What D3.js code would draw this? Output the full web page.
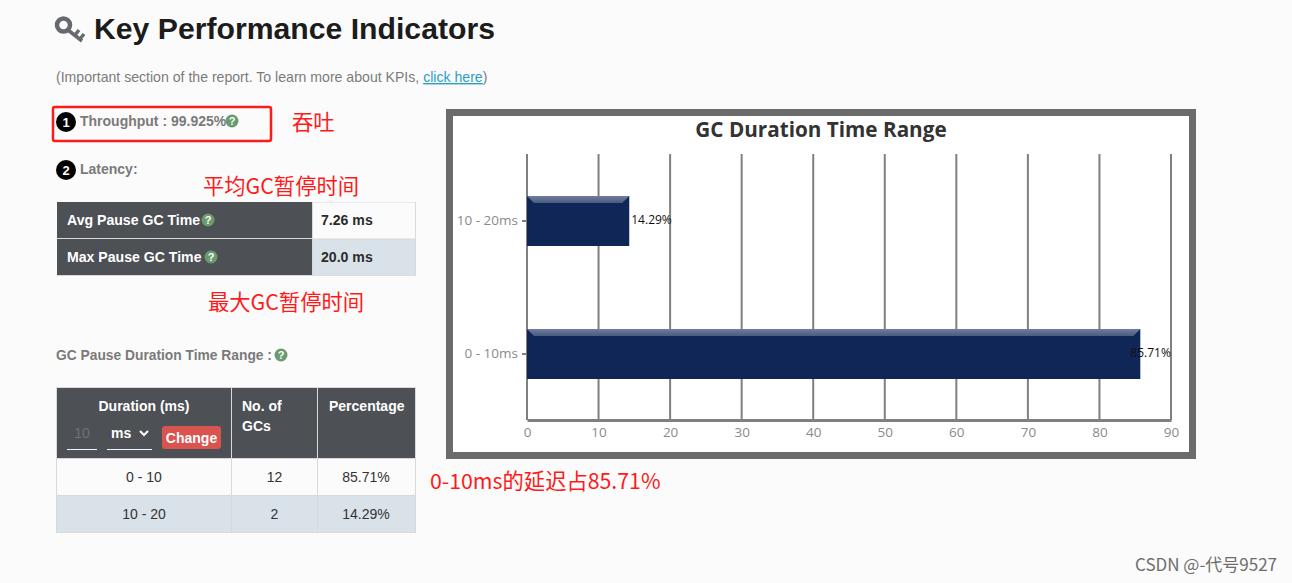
<!DOCTYPE html>
<html>
<head>
<meta charset="UTF-8">
<title>Key Performance Indicators</title>
<style>
html, body { margin: 0; padding: 0; background: #fbfbfb; overflow: hidden; }
svg { display: block; }
text { font-family: "Liberation Sans", Arial, sans-serif; }
.cjk { font-family: "Noto Sans CJK SC", sans-serif; fill: #ff1a1a; }
</style>
<script src="https://cdnjs.cloudflare.com/ajax/libs/d3/7.8.5/d3.min.js"></script>
</head>
<body>
<svg id="page" width="1292" height="583"></svg>
<script>
// chart values
const categories = ["10 - 20ms", "0 - 10ms"];
const percentages = [14.29, 85.71];
const percentLabels = ["14.29%", "85.71%"];
const xTicks = [0, 10, 20, 30, 40, 50, 60, 70, 80, 90];

// tables
const latencyRows = [["Avg Pause GC Time", "7.26 ms"], ["Max Pause GC Time", "20.0 ms"]];
const durationRows = [["0 - 10", "12", "85.71%"], ["10 - 20", "2", "14.29%"]];

const svg = d3.select("#page");

function label(x, y, str, size, color, weight, anchor) {
	return svg.append("text")
		.attr("x", x).attr("y", y)
		.attr("font-size", size)
		.attr("fill", color)
		.attr("font-weight", weight || "normal")
		.attr("text-anchor", anchor || "start")
		.text(str);
}

function note(x, y, str, size) {
	return svg.append("text").attr("class", "cjk")
		.attr("x", x).attr("y", y)
		.attr("font-size", size)
		.text(str);
}

function rect(x, y, w, h, fill) {
	return svg.append("rect").attr("x", x).attr("y", y).attr("width", w).attr("height", h).attr("fill", fill);
}

function helpIcon(cx, cy) {
	svg.append("circle").attr("cx", cx).attr("cy", cy).attr("r", 6.5).attr("fill", "#6a9a6d");
	label(cx, cy + 4, "?", 11, "#fbfbfb", "bold", "middle");
}

function numberBadge(cx, cy, n) {
	svg.append("circle").attr("cx", cx).attr("cy", cy).attr("r", 10).attr("fill", "#000");
	label(cx, cy + 4.5, n, 13, "#fff", "bold", "middle");
}

// heading with key icon
const key = svg.append("g").attr("fill", "none").attr("stroke", "#666a6e");
key.append("circle").attr("cx", 63.5).attr("cy", 25).attr("r", 6.5).attr("stroke-width", 4.5);
key.append("path").attr("d", "M68 30 L82 41 M75 35 L79 30 M80 39 L84 34").attr("stroke-width", 3.5);
label(94, 39, "Key Performance Indicators", 30.2, "#1c1c1c", "bold");

const intro = label(56, 82, "(Important section of the report. To learn more about KPIs, ", 14.1, "#7b7b7b");
intro.append("tspan").attr("fill", "#2a9fc9").attr("text-decoration", "underline").text("click here");
intro.append("tspan").text(")");

// throughput / latency
svg.append("rect").attr("x", 53).attr("y", 107).attr("width", 218).attr("height", 34).attr("rx", 2)
	.attr("fill", "none").attr("stroke", "#ff1a1a").attr("stroke-width", 2.5);
numberBadge(66, 122, "1");
label(80, 126, "Throughput : 99.925%", 14, "#7a7a7a", "bold");
helpIcon(232, 121);
numberBadge(66, 170, "2");
label(80, 174, "Latency:", 14, "#7a7a7a", "bold");

note(203, 194, "平均GC暂停时间", 21.3);
note(208, 310, "最大GC暂停时间", 21.3);
note(292, 130, "吞吐", 21.3);
note(430, 489, "0-10ms的延迟占85.71%", 21.3);

// latency table
rect(57, 202, 359, 74, "#d9d9d9");
latencyRows.forEach(function(row, i) {
	const y = 202 + i * 37;
	rect(57, y, 255, 36, "#4d5055");
	rect(313, y + 0.5, 102, 36, i == 0 ? "#fbfbfb" : "#dae2e9");
	label(67, y + 23, row[0], 14.1, "#fff", "bold");
	label(321, y + 23, row[1], 14.1, "#2b2b2b", "bold");
	helpIcon(i == 0 ? 208 : 211, y + 18);
});

label(56, 360, "GC Pause Duration Time Range :", 13.8, "#7a7a7a", "bold");
helpIcon(281, 355);

// duration table
rect(56, 387, 360, 146, "#d9d9d9");
rect(57, 388, 174, 70, "#4d5055");
rect(232, 388, 85, 70, "#4d5055");
rect(318, 388, 97, 70, "#4d5055");
label(144, 411, "Duration (ms)", 14, "#fff", "bold", "middle");
label(242, 411, "No. of", 14, "#fff", "bold");
label(242, 431, "GCs", 14, "#fff", "bold");
label(329, 411, "Percentage", 14, "#fff", "bold");
label(82, 438, "10", 14, "#6f7277", "normal", "middle");
rect(67, 449, 30, 1, "#f5f5f5");
label(111, 438, "ms", 14, "#fff", "bold");
svg.append("path").attr("d", "M140 431 L144 435 L148 431").attr("fill", "none").attr("stroke", "#fff").attr("stroke-width", 2);
rect(107, 449, 45, 1, "#f5f5f5");
svg.append("rect").attr("x", 162).attr("y", 426).attr("width", 59).attr("height", 23).attr("rx", 3).attr("fill", "#d9534f");
label(191.5, 443, "Change", 14, "#fff", "bold", "middle");

durationRows.forEach(function(row, i) {
	const y = 459 + i * 37;
	const fill = i == 0 ? "#fbfbfb" : "#dae2e9";
	rect(57, y, 174, 36, fill);
	rect(232, y, 85, 36, fill);
	rect(318, y, 97, 36, fill);
	label(144, y + 23, row[0], 14, "#333", "normal", "middle");
	label(274.5, y + 23, row[1], 14, "#333", "normal", "middle");
	label(366, y + 23, row[2], 14, "#333", "normal", "middle");
});

// chart frame
svg.append("rect").attr("x", 449.5).attr("y", 112.5).attr("width", 743).attr("height", 343)
	.attr("fill", "#fff").attr("stroke", "#6b6b6b").attr("stroke-width", 7);
label(821, 137, "GC Duration Time Range", 20.7, "#333", "bold", "middle").style("font-family", "'Open Sans', sans-serif");

const x = d3.scaleLinear().domain([0, 90]).range([527, 1171]);
const y = d3.scaleBand().domain(categories).range([154.5, 420.5]).paddingInner(0.624).paddingOuter(0.312);

const defs = svg.append("defs");
const shine = defs.append("linearGradient").attr("id", "bevel").attr("x1", 0).attr("y1", 0).attr("x2", 0).attr("y2", 1);
shine.append("stop").attr("offset", "0%").attr("stop-color", "#707f9e");
shine.append("stop").attr("offset", "100%").attr("stop-color", "#4a5b82");

// gridlines sit behind the bars
svg.append("g").selectAll("line").data(xTicks).enter().append("line")
	.attr("x1", function(d) { return x(d); }).attr("x2", function(d) { return x(d); })
	.attr("y1", 154).attr("y2", 420)
	.attr("stroke", "#808080").attr("stroke-width", 2);

const xAxis = svg.append("g").attr("transform", "translate(0,420)")
	.call(d3.axisBottom(x).tickValues(xTicks).tickSize(0).tickPadding(7));
xAxis.select(".domain").attr("stroke", "#808080").attr("stroke-width", 3);
xAxis.selectAll("text").attr("font-size", 13.5).attr("fill", "#8a8a8a").style("font-family", "'Open Sans', sans-serif");

const yAxis = svg.append("g").attr("transform", "translate(527,0)")
	.call(d3.axisLeft(y).tickSize(5).tickPadding(4));
yAxis.select(".domain").remove();
yAxis.selectAll("line").attr("stroke", "#808080").attr("stroke-width", 2);
yAxis.selectAll("text").attr("font-size", 13.5).attr("fill", "#8a8a8a").style("font-family", "'Open Sans', sans-serif");

const bars = svg.append("g").selectAll("g").data(categories).enter().append("g");
bars.append("rect")
	.attr("x", x(0))
	.attr("y", function(d) { return y(d); })
	.attr("width", function(d, i) { return x(percentages[i]) - x(0); })
	.attr("height", y.bandwidth())
	.attr("fill", "#0f2656");
// bevelled top edge of each bar
bars.append("path")
	.attr("d", function(d, i) {
		const x0 = x(0), x1 = x(percentages[i]), top = y(d), e = 7;
		return "M" + x0 + " " + top + "L" + x1 + " " + top + "L" + (x1 - e) + " " + (top + e) + "L" + (x0 + e) + " " + (top + e) + "Z";
	})
	.attr("fill", "url(#bevel)");

svg.append("g").selectAll("text").data(categories).enter().append("text")
	.attr("x", function(d, i) { return i == 0 ? x(percentages[i]) + 2 : x(percentages[i]) - 10; })
	.attr("y", function(d) { return y(d) + y.bandwidth() / 2 + 3; })
	.attr("font-size", 12)
	.attr("fill", "#111")
	.style("font-family", "'Open Sans', sans-serif")
	.text(function(d, i) { return percentLabels[i]; });

// watermark
label(1135, 571, "CSDN @-代号9527", 17, "#6e6e6e").style("font-family", "'Noto Sans CJK SC', sans-serif");
</script>
</body>
</html>
